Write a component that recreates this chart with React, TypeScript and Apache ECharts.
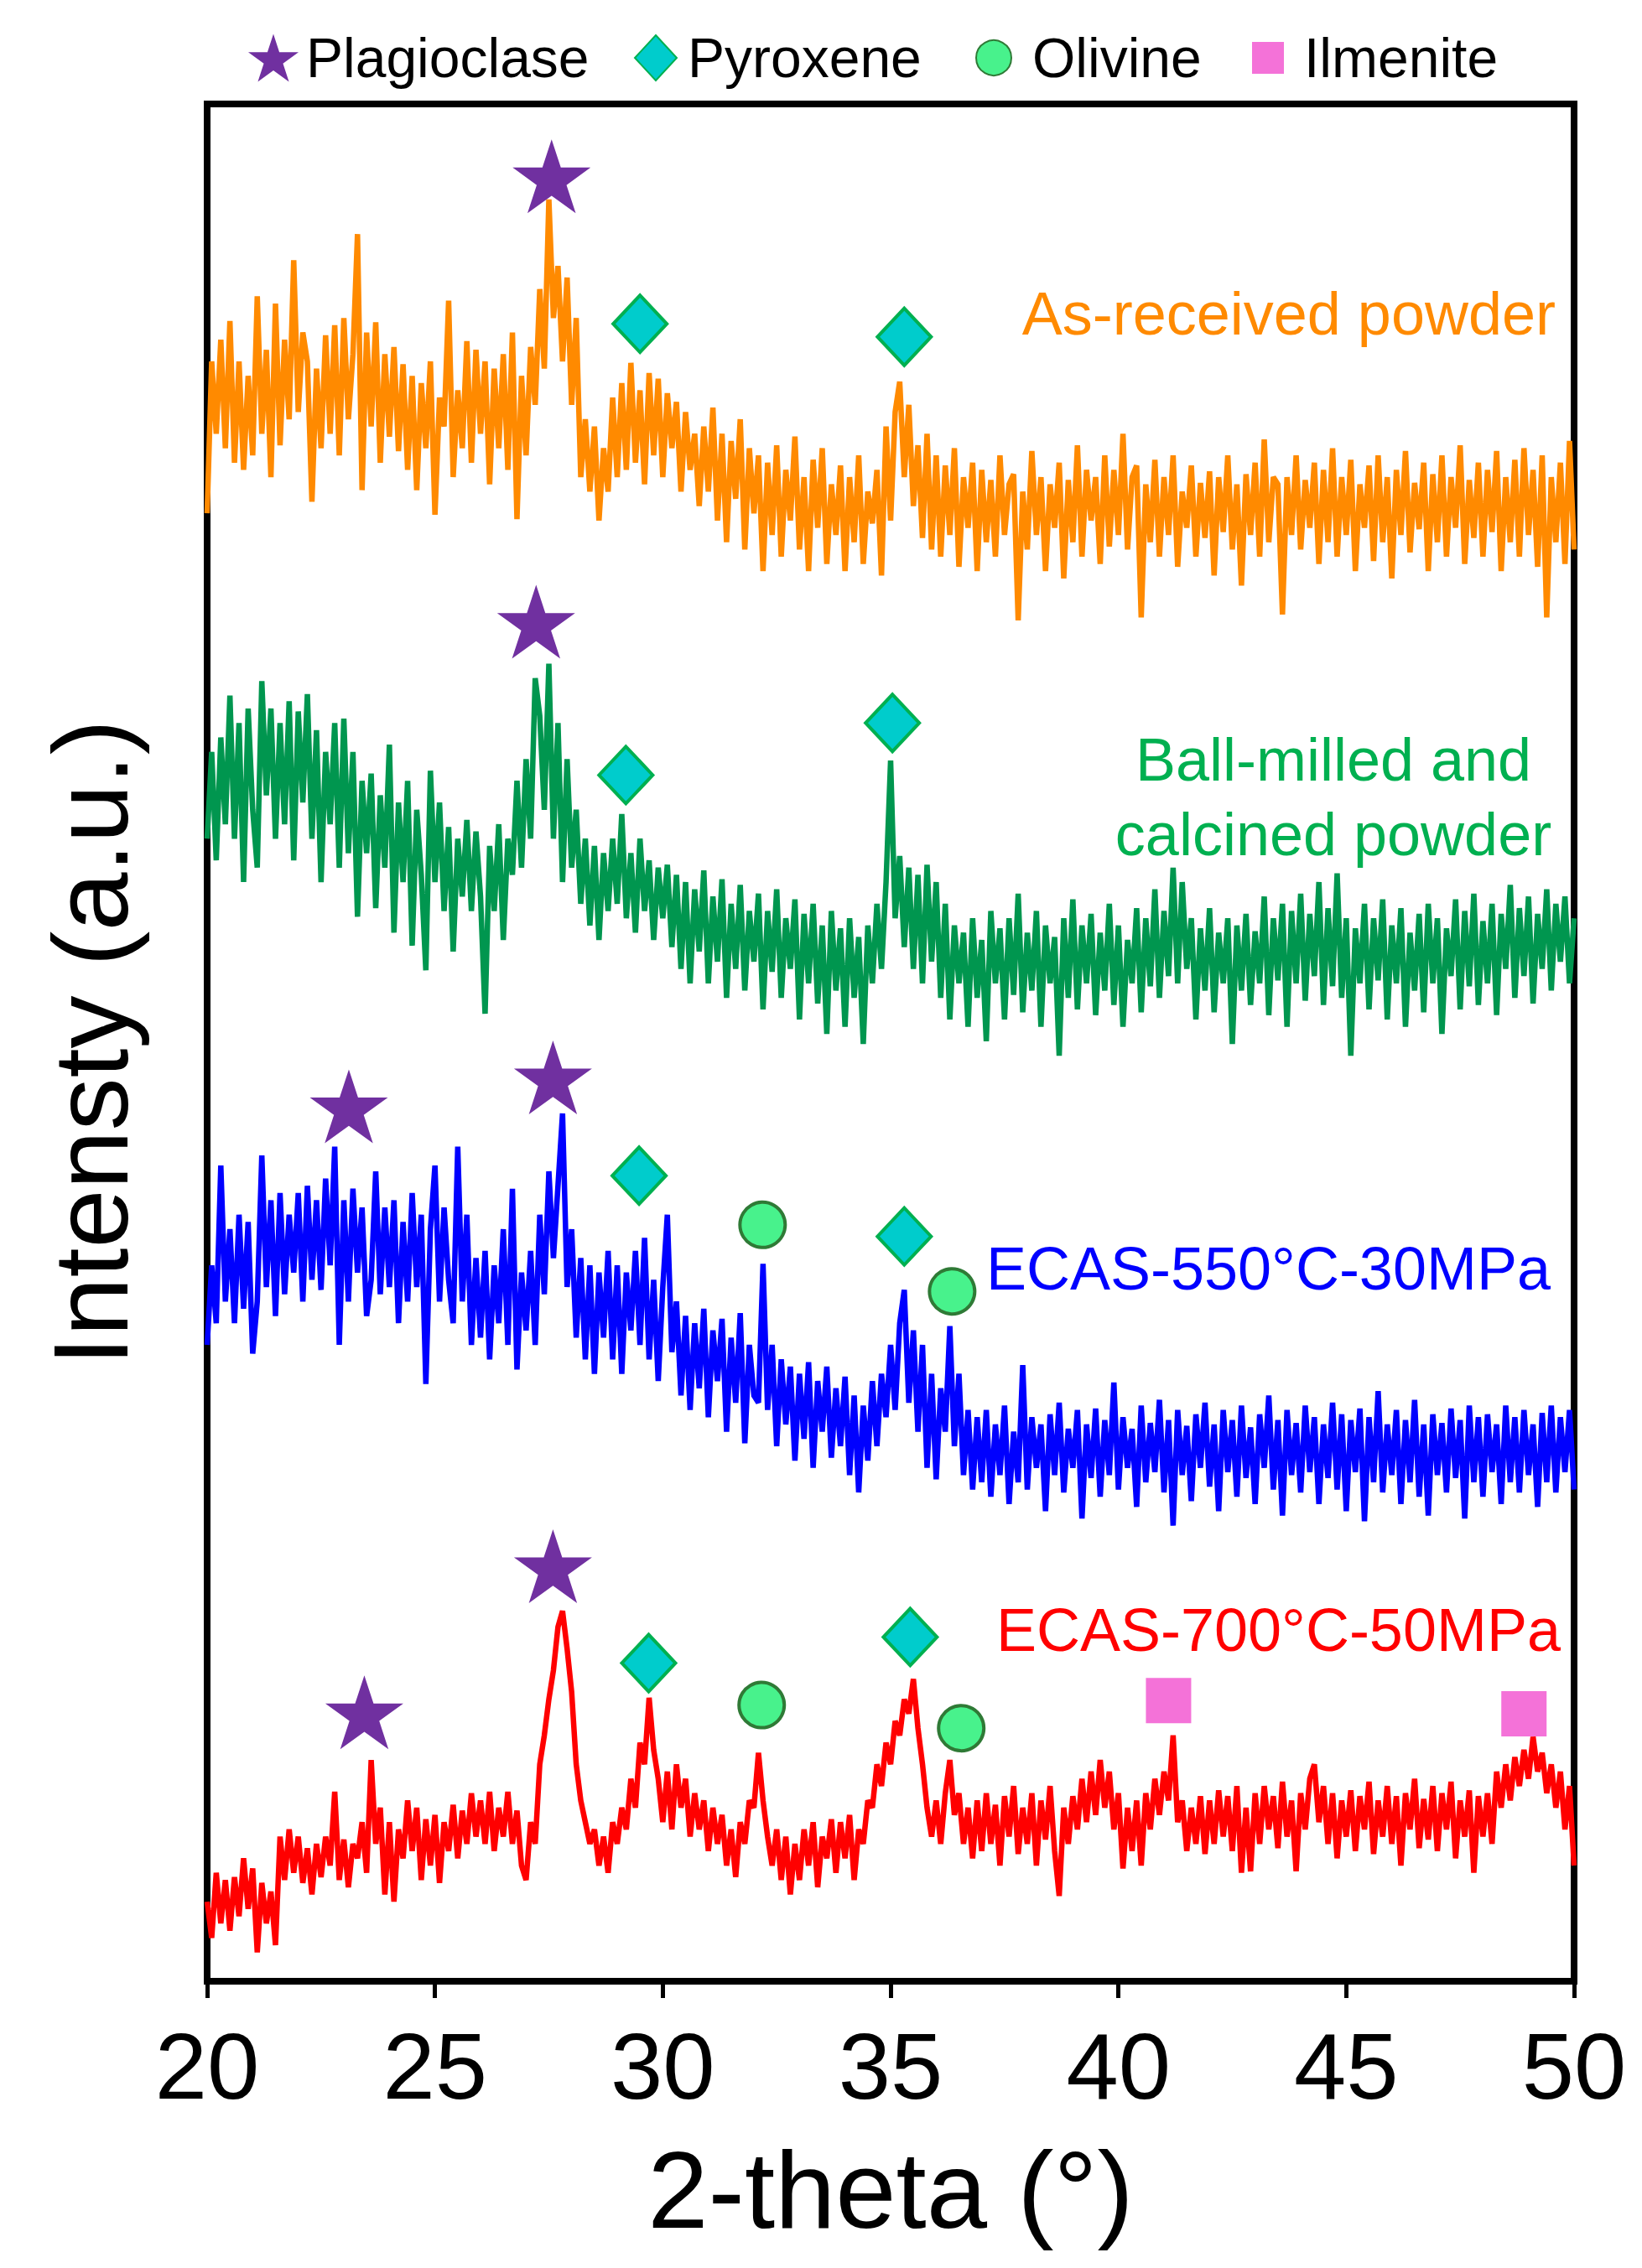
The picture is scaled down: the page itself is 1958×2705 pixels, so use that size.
import React, { useEffect, useRef } from "react";
import * as echarts from "echarts";

// 2-theta sampling grid (degrees), 20.0 ... 50.0 in 0.1 steps
const twoTheta: number[] = [];
for (let i = 0; i <= 300; i++) twoTheta.push(Math.round((20 + i * 0.1) * 10) / 10);

// Intensity (a.u., offset traces)
const asReceived: number[] = [
  1015,1120,1070,1135,1060,1148,1050,1120,1045,1110,
  1055,1165,1070,1128,1040,1160,1062,1135,1080,1190,
  1085,1140,1120,1023,1115,1060,1138,1070,1145,1055,
  1150,1080,1125,1208,1031,1140,1075,1147,1050,1125,
  1068,1130,1058,1118,1045,1110,1031,1105,1060,1120,
  1014,1095,1075,1162,1040,1100,1060,1134,1050,1128,
  1070,1120,1035,1115,1060,1125,1045,1140,1011,1110,
  1055,1130,1090,1170,1115,1232,1150,1186,1120,1178,
  1090,1150,1040,1080,1030,1075,1010,1060,1030,1095,
  1040,1105,1045,1119,1050,1100,1035,1112,1055,1108,
  1040,1098,1060,1092,1030,1085,1045,1070,1020,1075,
  1030,1088,1010,1070,995,1065,1025,1080,990,1060,
  1015,1055,975,1050,1000,1062,985,1045,1010,1068,
  990,1040,975,1052,1005,1060,980,1035,1000,1048,
  975,1040,995,1055,980,1030,1008,1045,972,1075,
  1010,1085,1106,1040,1090,1020,1062,998,1070,990,
  1055,985,1048,1000,1060,978,1040,1005,1050,975,
  1045,995,1038,985,1055,1000,1035,1042,941,1030,
  990,1058,1000,1040,975,1035,1005,1050,970,1038,
  995,1062,985,1045,1010,1040,980,1055,992,1045,
  1000,1070,990,1040,1048,943,1035,995,1052,985,
  1040,1000,1055,978,1030,1005,1048,985,1036,998,
  1044,972,1040,1002,1055,990,1035,965,1042,1000,
  1050,985,1066,995,1040,1035,945,1040,1000,1055,
  990,1038,1005,1050,980,1045,995,1060,985,1040,
  1000,1052,975,1035,1005,1048,982,1055,995,1040,
  970,1045,1000,1058,988,1036,1004,1050,975,1042,
  995,1055,985,1040,1005,1062,980,1038,998,1050,
  985,1045,1002,1058,975,1040,995,1052,985,1060,
  1000,1045,978,1055,943,1040,995,1050,980,1065,
  990
];

const ballMilled: number[] = [
  790,850,775,860,800,889,790,870,760,880,
  810,770,899,820,880,790,870,800,885,775,
  878,815,890,790,865,760,850,800,870,770,
  873,780,850,736,830,780,835,742,820,770,
  855,725,815,760,830,716,810,765,699,837,
  760,815,740,798,712,790,750,803,740,795,
  750,669,785,740,800,720,790,765,830,770,
  845,790,901,875,810,911,790,870,760,845,
  770,810,745,790,730,785,720,780,740,790,
  745,807,735,780,725,790,740,775,720,770,
  735,772,715,765,700,760,690,755,712,768,
  690,750,705,762,680,745,700,758,685,740,
  705,752,672,740,698,755,680,735,700,748,
  665,738,690,745,676,730,655,740,685,728,
  660,735,680,722,648,730,690,745,700,760,
  844,735,778,715,770,700,765,690,772,705,
  760,680,745,665,730,690,725,660,735,680,
  720,650,740,690,728,665,735,682,752,670,
  725,685,740,660,730,690,722,640,735,680,
  748,672,730,690,738,668,725,685,745,675,
  730,660,720,690,742,670,735,688,755,680,
  740,695,770,690,760,700,735,665,728,685,
  742,670,725,690,735,648,730,685,738,675,
  726,690,750,668,735,692,745,660,740,690,
  752,678,738,695,760,675,742,688,766,680,
  735,640,728,690,745,672,735,692,748,665,
  730,690,742,660,725,685,738,670,745,690,
  735,655,728,695,748,672,740,688,752,675,
  733,690,745,668,738,700,758,680,742,695,
  750,676,738,700,755,685,745,705,750,690,
  735
];

const ecas550: number[] = [
  440,495,455,564,470,520,455,530,465,525,
  434,470,571,480,540,460,545,475,530,490,
  545,470,550,485,540,478,555,495,577,440,
  540,470,548,490,535,460,485,560,475,535,
  480,540,455,525,470,545,480,530,413,520,
  564,470,535,485,455,577,470,530,440,500,
  445,505,430,495,455,520,440,548,423,490,
  450,505,440,530,475,560,500,550,600,480,
  520,445,500,430,495,420,490,445,505,430,
  495,420,490,450,505,440,514,430,485,415,
  480,530,435,470,405,460,395,455,410,465,
  390,450,415,458,380,445,400,462,372,440,
  405,400,496,395,440,370,430,385,425,360,
  420,375,428,355,415,380,425,362,410,370,
  418,350,405,338,398,360,415,370,420,390,
  440,395,455,478,400,450,380,440,355,420,
  347,410,380,453,370,420,350,395,340,390,
  345,395,335,385,350,398,330,380,345,426,
  340,390,355,385,325,392,350,400,338,382,
  355,395,320,385,348,396,335,388,350,414,
  340,390,355,382,328,398,345,386,352,402,
  338,388,315,395,350,384,332,392,355,400,
  342,385,325,395,352,388,335,398,348,383,
  330,392,355,405,340,388,322,395,350,386,
  338,398,352,390,330,385,348,400,340,392,
  325,388,352,396,318,390,345,408,338,385,
  350,395,330,388,345,402,335,385,322,392,
  350,386,338,396,348,388,320,398,345,390,
  335,392,352,385,330,398,345,390,338,395,
  350,385,328,393,345,398,338,390,352,395,
  340
];

const ecas700: number[] = [
  55,30,75,40,70,35,72,45,85,50,
  78,20,68,40,62,25,100,70,105,75,
  100,68,92,60,95,72,100,80,131,70,
  98,65,95,85,110,75,153,95,120,60,
  110,55,105,85,125,90,120,70,112,80,
  115,68,110,90,122,85,118,95,130,100,
  125,95,131,90,120,100,131,95,118,80,
  70,110,95,150,170,195,215,245,256,230,
  200,150,125,110,95,105,80,100,75,110,
  95,120,105,140,120,165,150,196,160,140,
  110,145,105,150,120,140,100,130,105,125,
  90,120,95,115,80,105,72,110,95,125,
  120,158,125,100,80,105,70,100,60,95,
  70,105,80,110,65,100,85,112,75,110,
  85,115,70,105,95,125,120,150,135,165,
  150,180,170,195,185,209,175,150,120,100,
  125,95,130,153,115,130,95,120,85,125,
  90,130,95,122,80,128,100,135,88,120,
  95,130,80,125,98,135,90,59,120,95,
  128,105,140,110,145,115,153,120,145,105,
  130,78,120,90,125,80,130,105,140,115,
  145,125,170,110,125,90,120,95,128,88,
  125,95,132,100,128,90,135,75,120,76,
  130,95,135,105,128,92,138,100,125,76,
  130,105,140,150,110,135,95,130,85,125,
  100,132,90,128,105,138,88,125,100,135,
  95,128,80,130,105,140,92,126,98,135,
  90,130,105,138,85,125,100,132,75,128,
  100,130,95,145,120,150,125,155,135,160,
  140,169,145,158,130,150,120,145,105,135,
  80
];

// Phase markers: [2-theta, intensity position]
const plagioclasePeaks: number[][] = [[27.56, 1248], [27.22, 940], [23.11, 605], [27.59, 625], [27.59, 287], [23.45, 186]];
const pyroxenePeaks: number[][] = [[29.5, 1146], [35.3, 1137], [29.19, 834], [35.04, 870], [29.48, 557], [35.3, 515], [29.69, 220], [35.43, 238]];
const olivinePeaks: number[][] = [[32.19, 523], [36.35, 477], [32.17, 191], [36.55, 175]];
const ilmenitePeaks: number[][] = [[41.1, 194], [48.9, 185]];

const sampleNames = ["As-received powder", "Ball-milled and calcined powder", "ECAS-550°C-30MPa", "ECAS-700°C-50MPa"];
const phaseNames = ["Plagioclase", "Pyroxene", "Olivine", "Ilmenite"];

const FONT = '"Liberation Sans", Arial, sans-serif';
const STAR = "path://M50,0 L61.23,34.55 L97.55,34.55 L68.17,55.9 L79.39,90.45 L50,69.1 L20.61,90.45 L31.83,55.9 L2.45,34.55 L38.77,34.55 Z";

export default function App() {
  const ref = useRef<HTMLDivElement>(null);
  useEffect(() => {
    if (!ref.current) return;
    const chart = echarts.init(ref.current, null, { renderer: "svg" });
    const toPairs = (arr: number[]) => twoTheta.map((x, i) => [x, arr[i]]);
    const lineColors = ["#FF8A00", "#00964F", "#0000FF", "#FF0000"];
    const traces = [asReceived, ballMilled, ecas550, ecas700];
    const lineSeries = traces.map((arr, k) => ({
      name: sampleNames[k],
      type: "line",
      data: toPairs(arr),
      showSymbol: false,
      symbol: "none",
      silent: true,
      z: 2,
      lineStyle: { width: 6.5, color: lineColors[k], join: "miter", miterLimit: 2 },
      itemStyle: { color: lineColors[k] },
    }));
    const legendText = (pad: number) => ({ fontSize: 66, color: "#000", fontFamily: FONT, padding: [0, 0, 0, pad] });
    const textEl = (x: number, y: number, text: string, fill: string, align: string) => ({
      type: "text",
      x,
      y,
      z: 10,
      style: {
        text,
        fill,
        font: `72px ${FONT}`,
        fontSize: 72,
        fontFamily: FONT,
        align,
        textAlign: align,
        verticalAlign: "middle",
        textVerticalAlign: "middle",
      },
    });
    const option: any = {
      animation: false,
      backgroundColor: "#fff",
      grid: { left: 247, top: 124, width: 1630, height: 2239, show: true, borderColor: "#000", borderWidth: 8, backgroundColor: "transparent" },
      xAxis: {
        type: "value",
        min: 20,
        max: 50,
        interval: 5,
        axisLine: { show: true, lineStyle: { color: "#000", width: 8 } },
        axisTick: { show: true, length: 20, lineStyle: { color: "#000", width: 5 } },
        axisLabel: { fontSize: 112, color: "#000", margin: 45, fontFamily: FONT },
        splitLine: { show: false },
        name: "2-theta (°)",
        nameLocation: "middle",
        nameGap: 184,
        nameTextStyle: { fontSize: 130, color: "#000", fontFamily: FONT },
      },
      yAxis: {
        type: "value",
        min: 0,
        max: 1298,
        axisLine: { show: true, lineStyle: { color: "#000", width: 8 } },
        axisTick: { show: false },
        axisLabel: { show: false },
        splitLine: { show: false },
        name: "Intensty (a.u.)",
        nameLocation: "middle",
        nameGap: 76,
        nameTextStyle: { fontSize: 126, color: "#000", fontFamily: FONT },
      },
      legend: [
        { data: [phaseNames[0]], left: 296, top: 36, padding: 0, itemWidth: 60, itemHeight: 58, selectedMode: false, textStyle: legendText(4) },
        { data: [phaseNames[1]], left: 756, top: 36, padding: 0, itemWidth: 50, itemHeight: 54, selectedMode: false, textStyle: legendText(8) },
        { data: [phaseNames[2]], left: 1163, top: 36, padding: 0, itemWidth: 42, itemHeight: 42, selectedMode: false, textStyle: legendText(20) },
        { data: [phaseNames[3]], left: 1493, top: 36, padding: 0, itemWidth: 38, itemHeight: 38, selectedMode: false, textStyle: legendText(19) },
      ],
      series: [
        ...lineSeries,
        { name: phaseNames[0], type: "scatter", data: plagioclasePeaks, symbol: STAR, symbolSize: [93, 88], z: 5, itemStyle: { color: "#7030A0", opacity: 1 } },
        { name: phaseNames[1], type: "scatter", data: pyroxenePeaks, symbol: "diamond", symbolSize: [64, 68], z: 5, itemStyle: { color: "#00CCCC", borderColor: "#00B050", borderWidth: 4, opacity: 1 } },
        { name: phaseNames[2], type: "scatter", data: olivinePeaks, symbol: "circle", symbolSize: 54, z: 5, itemStyle: { color: "#48F28C", borderColor: "#2F7A36", borderWidth: 4, opacity: 1 } },
        { name: phaseNames[3], type: "scatter", data: ilmenitePeaks, symbol: "rect", symbolSize: 54, z: 5, itemStyle: { color: "#F472D8", opacity: 1 } },
      ],
      graphic: [
        textEl(1855, 374, sampleNames[0], "#FF8A00", "right"),
        textEl(1590, 906, "Ball-milled and", "#00B050", "center"),
        textEl(1590, 995, "calcined powder", "#00B050", "center"),
        textEl(1849, 1513, sampleNames[2], "#0000FF", "right"),
        textEl(1861, 1944, sampleNames[3], "#FF0000", "right"),
      ],
    };
    chart.setOption(option);
    return () => chart.dispose();
  }, []);
  return <div ref={ref} style={{ position: "absolute", left: 0, top: 0, width: 1958, height: 2705 }} />;
}
